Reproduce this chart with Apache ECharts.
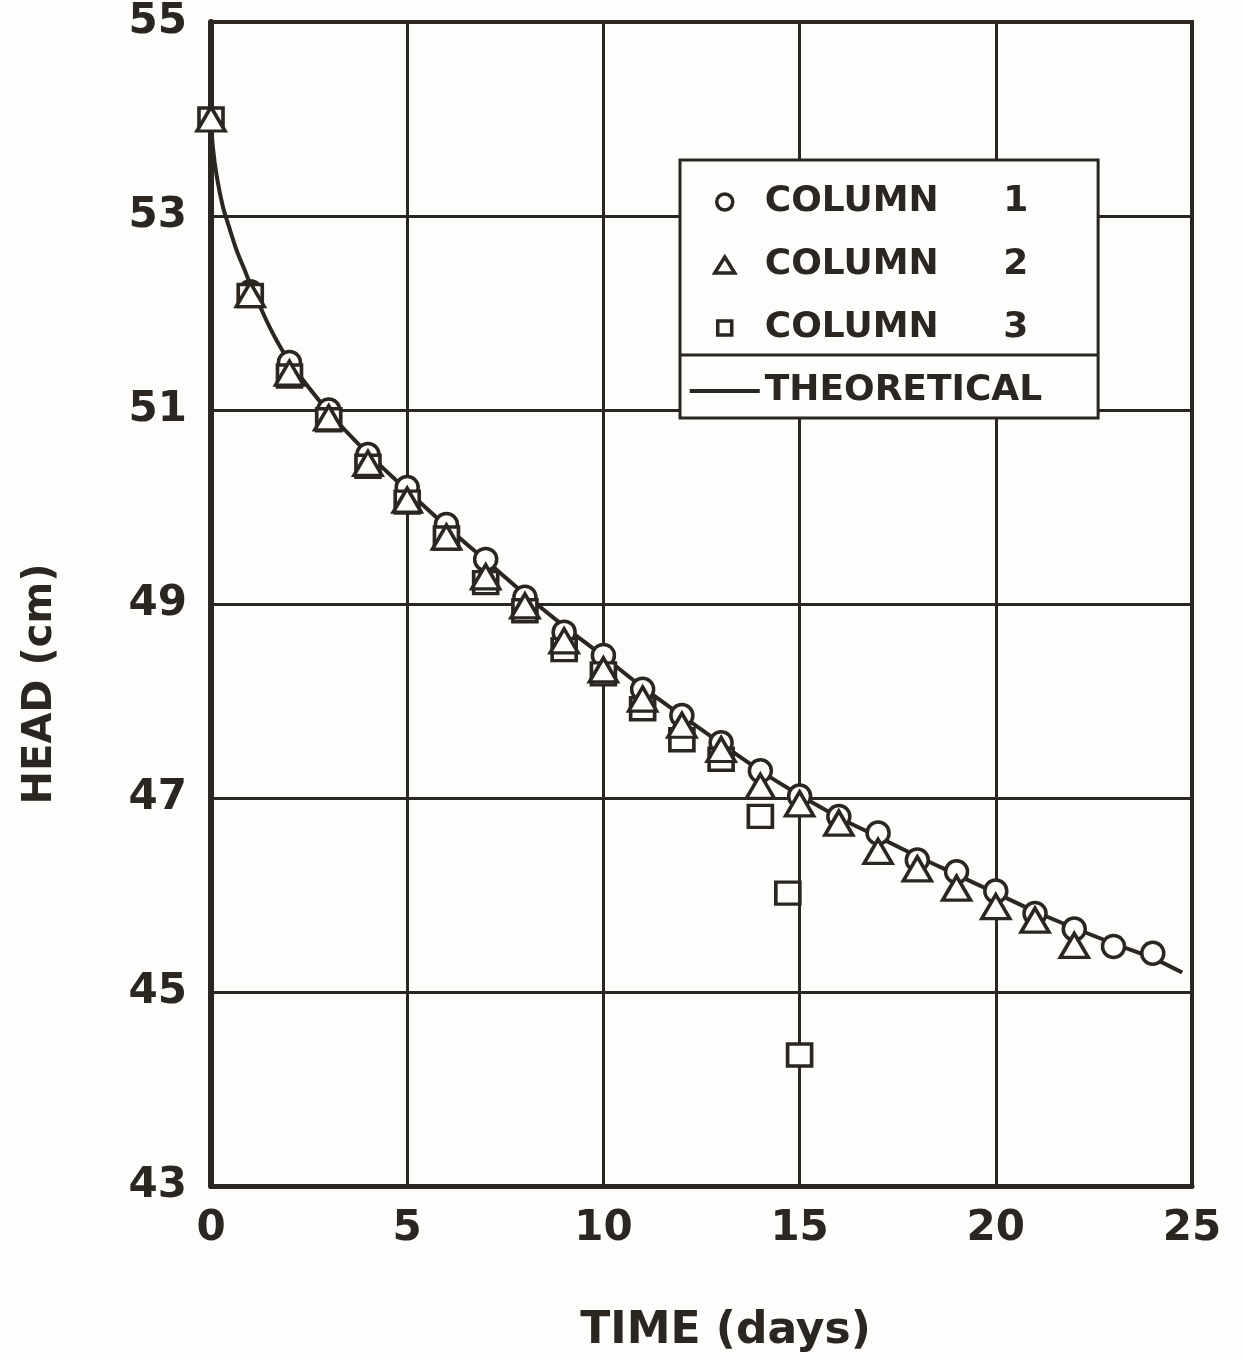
<!DOCTYPE html>
<html>
<head>
<meta charset="utf-8">
<script src="https://cdn.jsdelivr.net/npm/echarts@6/dist/echarts.min.js"></script>
<style>
html,body{margin:0;padding:0;background:#fdfdfb;}
#chart{width:1244px;height:1360px;}
</style>
</head>
<body>
<div id="chart"></div>
<script>
// ---- data ----
const col1T = [0,1,2,3,4,5,6,7,8,9,10,11,12,13,14,15,16,17,18,19,20,21,22,23,24];
const col1H = [54.0,52.22,51.49,51.0,50.54,50.2,49.82,49.46,49.07,48.71,48.47,48.12,47.85,47.57,47.28,47.02,46.81,46.64,46.36,46.24,46.04,45.81,45.65,45.47,45.4];

const col2T = [0,1,2,3,4,5,6,7,8,9,10,11,12,13,14,15,16,17,18,19,20,21,22];
const col2H = [54.0,52.19,51.38,50.92,50.45,50.07,49.69,49.28,48.98,48.62,48.32,48.02,47.75,47.5,47.12,46.94,46.74,46.45,46.27,46.07,45.88,45.74,45.48];

const col3T = [0,1,2,3,4,5,6,7,8,9,10,11,12,13,14,14.7,15];
const col3H = [54.0,52.18,51.35,50.9,50.42,50.05,49.68,49.22,48.93,48.53,48.28,47.92,47.6,47.4,46.81,46.02,44.35];

const theoryT = [0,0.05,0.15,0.3,0.45,0.65,0.85,1,1.5,2,3,4,5,6,7,8,9,10,11,12,13,14,15,16,17,18,19,20,21,22,23,24,24.75];
const theoryH = [54.0,53.7,53.4,53.1,52.9,52.65,52.45,52.3,51.85,51.5,50.98,50.55,50.17,49.8,49.45,49.1,48.77,48.46,48.14,47.85,47.56,47.28,47.03,46.8,46.6,46.4,46.21,46.02,45.83,45.66,45.5,45.35,45.2];

const xTicks = [0,5,10,15,20,25];
const yTicks = [43,45,47,49,51,53,55];

const seriesNames = ['COLUMN 1','COLUMN 2','COLUMN 3','THEORETICAL'];
const xName = 'TIME (days)';
const yName = 'HEAD (cm)';

// ---- styling ----
const ink = '#2b2620';
const paper = '#fdfdfb';
const pair = (t, h) => t.map((v, i) => [v, h[i]]);

const chart = echarts.init(document.getElementById('chart'), null, {renderer:'canvas'});

const legendIconStyle = {color: paper, borderColor: ink, borderWidth: 3.5};
// legend icons drawn inside a 70x18 box (invisible move-to corners keep the box size)
const iconBox = 'M0,0M70,18';
const iconCircle = 'path://' + iconBox + 'M43,9A8,8,0,1,1,27,9A8,8,0,1,1,43,9Z';
const iconTriangle = 'path://' + iconBox + 'M35,1L45,17L25,17Z';
const iconSquare = 'path://' + iconBox + 'M28,2H42V16H28Z';
const iconLine = 'path://' + iconBox + 'M0,7H70V11H0Z';

chart.setOption({
  backgroundColor: paper,
  animation: false,
  textStyle: {fontFamily: 'DejaVu Sans', color: ink},
  grid: {left: 211, right: 52, top: 22, bottom: 174, show: true, borderColor: ink, borderWidth: 4, backgroundColor: 'transparent'},
  legend: {
    orient: 'vertical',
    left: 680, top: 160,
    padding: [21, 56, 6, 8],
    itemGap: 21,
    itemWidth: 70, itemHeight: 18,
    borderColor: ink, borderWidth: 3,
    backgroundColor: paper,
    selectedMode: false,
    data: [
      {name: seriesNames[0], icon: iconCircle, itemStyle: legendIconStyle},
      {name: seriesNames[1], icon: iconTriangle, itemStyle: legendIconStyle},
      {name: seriesNames[2], icon: iconSquare, itemStyle: legendIconStyle},
      {name: seriesNames[3], icon: iconLine, itemStyle: {color: ink, borderWidth: 0}}
    ],
    formatter: function (name) {
      if (name.indexOf('COLUMN') === 0) {
        return '{n|COLUMN}{d|' + name.split(' ')[1] + '}';
      }
      return '{t|' + name + '}';
    },
    textStyle: {
      fontFamily: 'DejaVu Sans', fontWeight: 'bold', fontSize: 36, color: ink, lineHeight: 42,
      rich: {
        n: {fontFamily: 'DejaVu Sans', fontWeight: 'bold', fontSize: 36, color: ink, width: 236, lineHeight: 42},
        d: {fontFamily: 'DejaVu Sans', fontWeight: 'bold', fontSize: 36, color: ink, width: 30, align: 'center', lineHeight: 42},
        t: {fontFamily: 'DejaVu Sans', fontWeight: 'bold', fontSize: 36, color: ink, lineHeight: 42}
      }
    }
  },
  graphic: [{
    type: 'line', z: 100,
    shape: {x1: 680, y1: 355, x2: 1098, y2: 355},
    style: {stroke: ink, lineWidth: 3}
  }],
  xAxis: {
    type: 'value', min: 0, max: 25, interval: 5,
    name: xName, nameLocation: 'middle', nameGap: 124,
    nameTextStyle: {fontFamily: 'DejaVu Sans', fontWeight: 'bold', fontSize: 44, color: ink, padding: [0, 0, 0, 48]},
    axisLine: {show: true, onZero: false, lineStyle: {color: ink, width: 5}},
    axisTick: {show: false, customValues: xTicks},
    axisLabel: {customValues: xTicks, margin: 22, fontFamily: 'DejaVu Sans', fontWeight: 'bold', fontSize: 42, color: ink},
    splitLine: {show: true, lineStyle: {color: ink, width: 3}}
  },
  yAxis: {
    type: 'value', min: 43, max: 55,
    name: yName, nameLocation: 'middle', nameGap: 150, nameRotate: 90,
    nameTextStyle: {fontFamily: 'DejaVu Sans', fontWeight: 'bold', fontSize: 40, color: ink, padding: [0, 160, 0, 0]},
    axisLine: {show: true, onZero: false, lineStyle: {color: ink, width: 6}},
    axisTick: {show: false, customValues: yTicks},
    axisLabel: {customValues: yTicks, margin: 24, fontFamily: 'DejaVu Sans', fontWeight: 'bold', fontSize: 42, color: ink},
    splitLine: {show: true, lineStyle: {color: ink, width: 3}}
  },
  series: [
    {
      name: seriesNames[3], type: 'line', data: pair(theoryT, theoryH),
      symbol: 'none', smooth: 0.3, z: 2,
      lineStyle: {color: ink, width: 4}, itemStyle: {color: ink}
    },
    {
      name: seriesNames[0], type: 'scatter', data: pair(col1T, col1H),
      symbol: 'circle', symbolSize: 22, z: 3,
      itemStyle: {color: paper, borderColor: ink, borderWidth: 3.5, opacity: 1}
    },
    {
      name: seriesNames[2], type: 'scatter', data: pair(col3T, col3H),
      symbol: 'rect', symbolSize: [24, 22], z: 4,
      itemStyle: {color: paper, borderColor: ink, borderWidth: 3.5, opacity: 1}
    },
    {
      name: seriesNames[1], type: 'scatter', data: pair(col2T, col2H),
      symbol: 'triangle', symbolSize: [28, 24], z: 5,
      itemStyle: {color: paper, borderColor: ink, borderWidth: 3.5, opacity: 1}
    }
  ]
});
</script>
</body>
</html>
